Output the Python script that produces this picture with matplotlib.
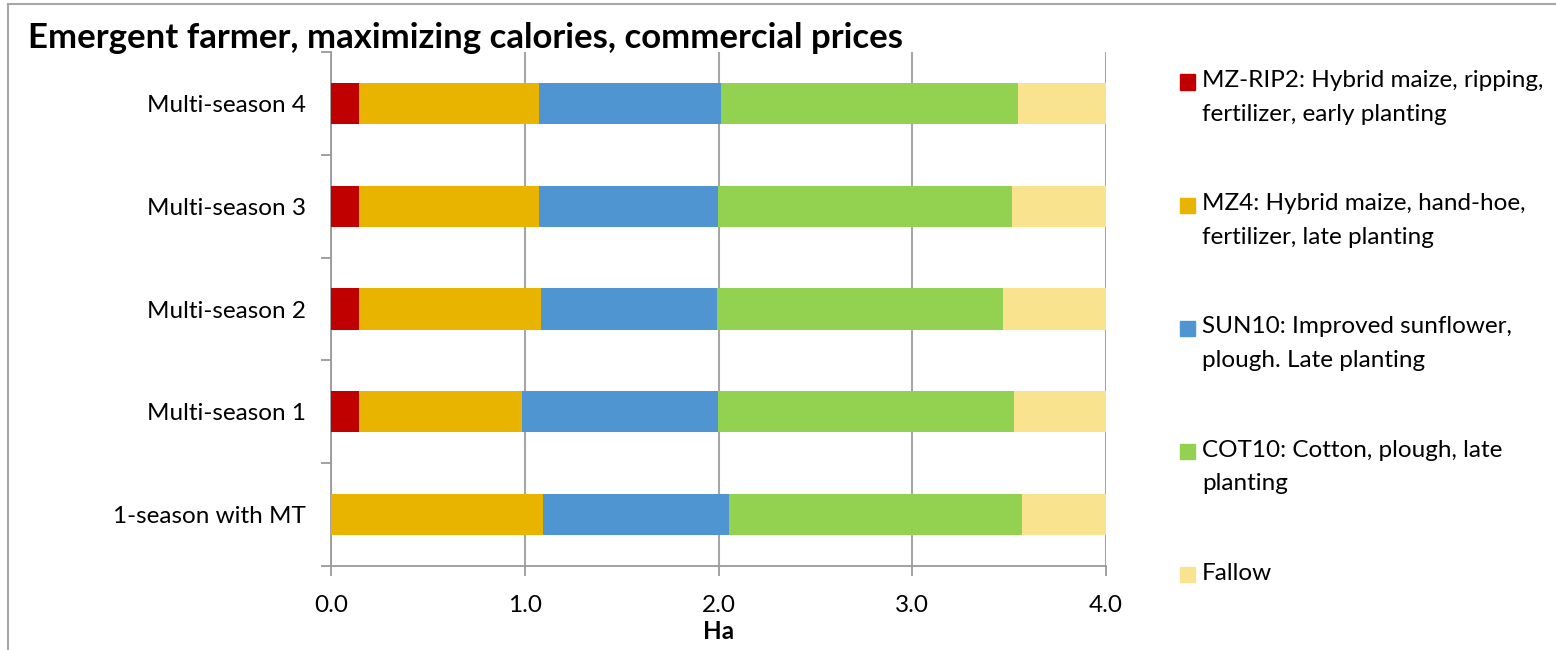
import matplotlib
matplotlib.use('Agg')
import matplotlib.pyplot as plt
from matplotlib.patches import Rectangle
from matplotlib.lines import Line2D
import numpy as np

plt.rcParams['font.family'] = ['Lato', 'DejaVu Sans']

# categories, bottom to top
categories = ['1-season with MT', 'Multi-season 1', 'Multi-season 2',
              'Multi-season 3', 'Multi-season 4']

# Ha per activity, same order as categories
mz_rip2 = [0.0, 0.145, 0.145, 0.145, 0.145]
mz4 = [1.095, 0.84, 0.94, 0.93, 0.93]
sun10 = [0.96, 1.01, 0.905, 0.92, 0.94]
cot10 = [1.51, 1.53, 1.48, 1.52, 1.53]
fallow = [0.445, 0.485, 0.54, 0.495, 0.475]

series_labels = ['MZ-RIP2: Hybrid maize, ripping,\nfertilizer, early planting',
                 'MZ4: Hybrid maize, hand-hoe,\nfertilizer, late planting',
                 'SUN10: Improved sunflower,\nplough. Late planting',
                 'COT10: Cotton, plough, late\nplanting',
                 'Fallow']
colors = ['#C00000', '#E8B400', '#4F95D2', '#93D150', '#FAE38E']

xticks = [0.0, 1.0, 2.0, 3.0, 4.0]

FS = 17.5

fig = plt.figure(figsize=(15.56, 6.5), dpi=100)
ax = fig.add_axes([331/1556, 84/650, 775/1556, 514/650])

y = np.arange(len(categories))
left = np.zeros(len(categories))
for vals, c in zip([mz_rip2, mz4, sun10, cot10, fallow], colors):
    ax.barh(y, vals, left=left, height=0.4, color=c, edgecolor='none', zorder=3)
    left = left + np.array(vals)

ax.set_xlim(0, 4.0)
ax.set_ylim(-0.5, len(categories) - 0.5)
ax.set_xticks(xticks)
ax.set_xticklabels(['%.1f' % v for v in xticks], fontsize=FS)
ax.set_yticks(y)
ax.set_yticklabels(categories, fontsize=FS)
ax.set_yticks(np.arange(len(categories) + 1) - 0.5, minor=True)
ax.tick_params(axis='y', which='major', length=0, pad=18)
ax.tick_params(axis='y', which='minor', length=7, color='#9a9a9a', width=1.3)
ax.tick_params(axis='x', length=7, color='#9a9a9a', width=1.3, pad=14)
ax.grid(axis='x', color='#a6a6a6', linewidth=1.5, zorder=0)
for s in ['top', 'right']:
    ax.spines[s].set_visible(False)
for s in ['left', 'bottom']:
    ax.spines[s].set_color('#9a9a9a')
    ax.spines[s].set_linewidth(1.3)
ax.set_xlabel('Ha', fontsize=FS, fontweight='bold', labelpad=3)

fig.text(28/1556, 1 - 38/650, 'Emergent farmer, maximizing calories, commercial prices',
         fontsize=25, fontweight='bold', va='center', ha='left')

# legend, drawn by hand so the swatch sits on the first line
for i, (lab, c) in enumerate(zip(series_labels, colors)):
    yc = 82 + i * 123.2
    fig.patches.append(Rectangle((1180/1556, 1 - (yc + 7.5)/650), 15/1556, 15/650,
                                 transform=fig.transFigure, color=c))
    fig.text(1202/1556, 1 - (yc - 12)/650, lab, fontsize=FS, va='top', ha='left',
             linespacing=1.75)

# chart border
fig.add_artist(Line2D([8/1556, 1], [1 - 4/650, 1 - 4/650], transform=fig.transFigure,
                      color='#a6a6a6', linewidth=1.5))
fig.add_artist(Line2D([8/1556, 8/1556], [0, 1 - 4/650], transform=fig.transFigure,
                      color='#a6a6a6', linewidth=1.5))

fig.savefig('out.png', dpi=100)
